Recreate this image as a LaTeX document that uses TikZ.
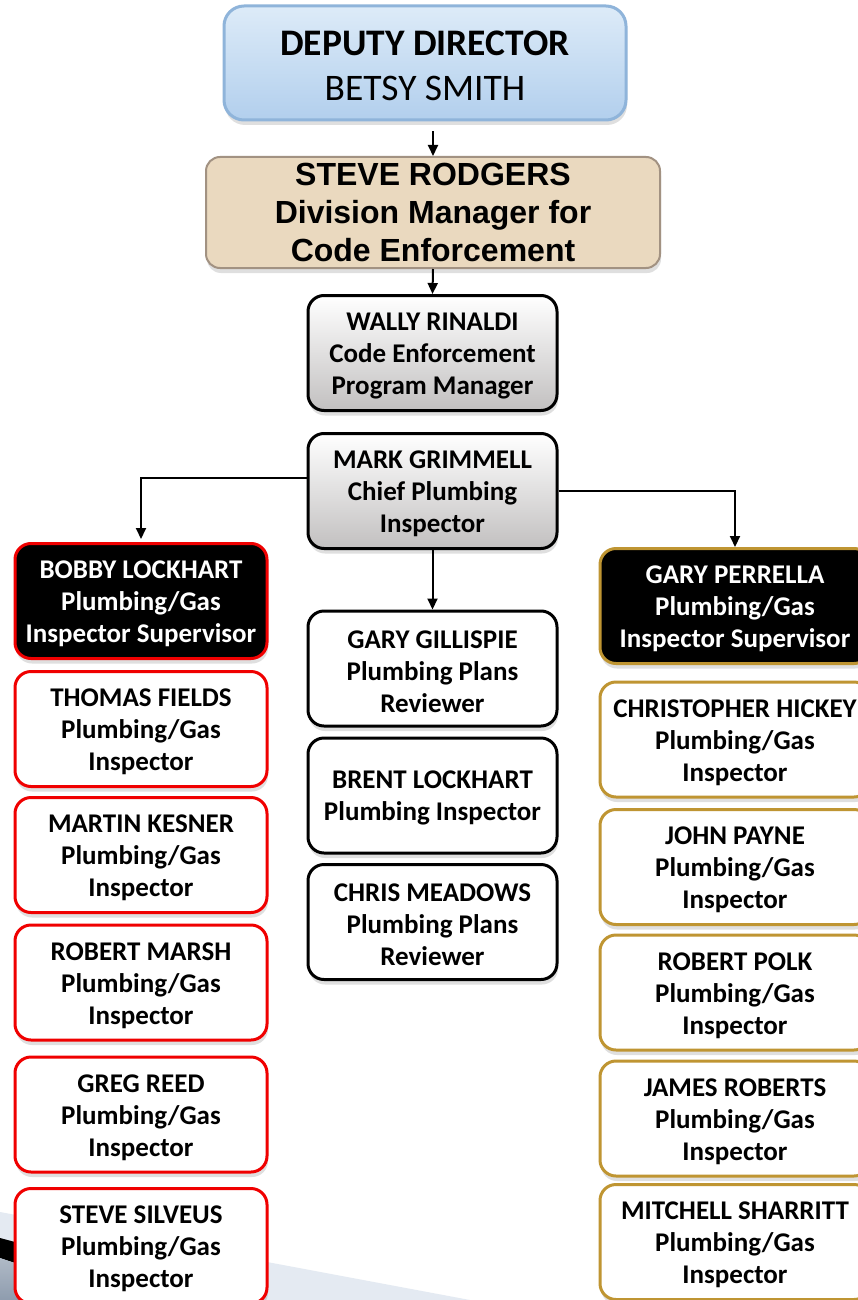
\documentclass[tikz,border=0pt]{standalone}
\usepackage{fontspec}
\setmainfont{Carlito}
\newfontfamily\arialfont{Liberation Sans}
\usetikzlibrary{shadows,arrows.meta,calc}
\newcommand\fstrut{\rule{0pt}{23.5pt}}
\definecolor{redb}{HTML}{F00000}
\definecolor{goldb}{HTML}{BF9532}
\definecolor{depfilltop}{HTML}{DDEBF8}
\definecolor{depfillbot}{HTML}{B2CFED}
\definecolor{depdraw}{HTML}{8FB4DA}
\definecolor{tanfill}{HTML}{EAD9BF}
\definecolor{tandraw}{HTML}{A29282}
\definecolor{grayend}{HTML}{C2C0C0}
\definecolor{swoosh}{HTML}{E4EAF2}
\definecolor{swooshdark}{HTML}{8E9CAE}
\tikzset{
  shad/.style={drop shadow={opacity=0.25,shadow xshift=1pt,shadow yshift=-5pt}},
  box/.style={rectangle, rounded corners=16pt, minimum height=115pt, align=center,
    inner sep=0pt, line width=3pt, shad, font=\bfseries\fontsize{27}{32}\selectfont},
  redbox/.style={box, draw=redb, fill=white, minimum width=252pt},
  redsup/.style={redbox, fill=black, text=white},
  goldbox/.style={box, draw=goldb, fill=white, minimum width=270pt},
  goldsup/.style={goldbox, fill=black, text=white},
  midbox/.style={box, draw=black, fill=white, minimum width=249pt},
  graybox/.style={midbox, top color=white, bottom color=grayend},
  conn/.style={line width=2pt, -{Triangle[width=10pt,length=11pt]}}
}
\begin{document}
\begin{tikzpicture}[x=1pt,y=-1pt]
\useasboundingbox (0,0) rectangle (858,1300);
\fill[white] (0,0) rectangle (858,1300);
% background swoosh
\fill[swoosh] (0,1212) -- (470,1300) -- (0,1300) -- cycle;
\fill[black] (0,1238) -- (30,1246) -- (30,1268) -- (0,1258) -- cycle;
\shade[top color=swooshdark!70, bottom color=swooshdark] (0,1258) -- (30,1268) -- (30,1300) -- (0,1300) -- cycle;

% top
\node[rectangle, rounded corners=20pt, minimum width=402pt, minimum height=114pt,
  top color=depfilltop, bottom color=depfillbot, draw=depdraw, line width=3pt, shad,
  align=center, inner sep=0pt, font=\fontsize{37.5}{45}\selectfont] (dep) at (425,63)
  {\rule{0pt}{31pt}\textbf{DEPUTY DIRECTOR}\\BETSY SMITH};
\node[rectangle, rounded corners=14pt, minimum width=454pt, minimum height=111pt,
  fill=tanfill, draw=tandraw, line width=2pt, shad, align=center, inner sep=0pt,
  font=\arialfont\bfseries\fontsize{32}{38}\selectfont] (steve) at (433,212.5)
  {STEVE RODGERS\\Division Manager for\\Code Enforcement};

\node[graybox] (wally) at (432.5,353) {\fstrut WALLY RINALDI\\Code Enforcement\\Program Manager};
\node[graybox] (mark) at (432.5,491) {\fstrut MARK GRIMMELL\\Chief Plumbing\\Inspector};

% middle column
\node[midbox] (gill) at (432.5,668.5) {\fstrut GARY GILLISPIE\\Plumbing Plans\\Reviewer};
\node[midbox] (brent) at (432.5,795.5) {\fstrut BRENT LOCKHART\\Plumbing Inspector};
\node[midbox] (chris) at (432.5,922) {\fstrut CHRIS MEADOWS\\Plumbing Plans\\Reviewer};

% left column
\node[redsup] (bobby) at (141,601) {\fstrut BOBBY LOCKHART\\Plumbing/Gas\\Inspector Supervisor};
\node[redbox] (thomas) at (141,729) {\fstrut THOMAS FIELDS\\Plumbing/Gas\\Inspector};
\node[redbox] (martin) at (141,855) {\fstrut MARTIN KESNER\\Plumbing/Gas\\Inspector};
\node[redbox] (marsh) at (141,982.5) {\fstrut ROBERT MARSH\\Plumbing/Gas\\Inspector};
\node[redbox] (greg) at (141,1114.5) {\fstrut GREG REED\\Plumbing/Gas\\Inspector};
\node[redbox] (silveus) at (141,1246) {\fstrut STEVE SILVEUS\\Plumbing/Gas\\Inspector};

% right column
\node[goldsup] (perrella) at (735,606) {\fstrut GARY PERRELLA\\Plumbing/Gas\\Inspector Supervisor};
\node[goldbox] (hickey) at (735,739.5) {\fstrut CHRISTOPHER HICKEY\\Plumbing/Gas\\Inspector};
\node[goldbox] (payne) at (735,867) {\fstrut JOHN PAYNE\\Plumbing/Gas\\Inspector};
\node[goldbox] (polk) at (735,992.5) {\fstrut ROBERT POLK\\Plumbing/Gas\\Inspector};
\node[goldbox] (roberts) at (735,1118.5) {\fstrut JAMES ROBERTS\\Plumbing/Gas\\Inspector};
\node[goldbox] (sharritt) at (735,1242) {\fstrut MITCHELL SHARRITT\\Plumbing/Gas\\Inspector};

% connectors
\draw[conn] ([yshift=-10pt]dep.south -| steve.north) -- (steve.north);
\draw[conn] (steve.south) -- (wally.north);
\draw[conn] (mark.south) -- (gill.north);
\draw[conn, shorten >=3pt] ([yshift=13pt]mark.west) -| (bobby.north);
\draw[conn] (mark.east) -| (perrella.north);
\end{tikzpicture}
\end{document}
